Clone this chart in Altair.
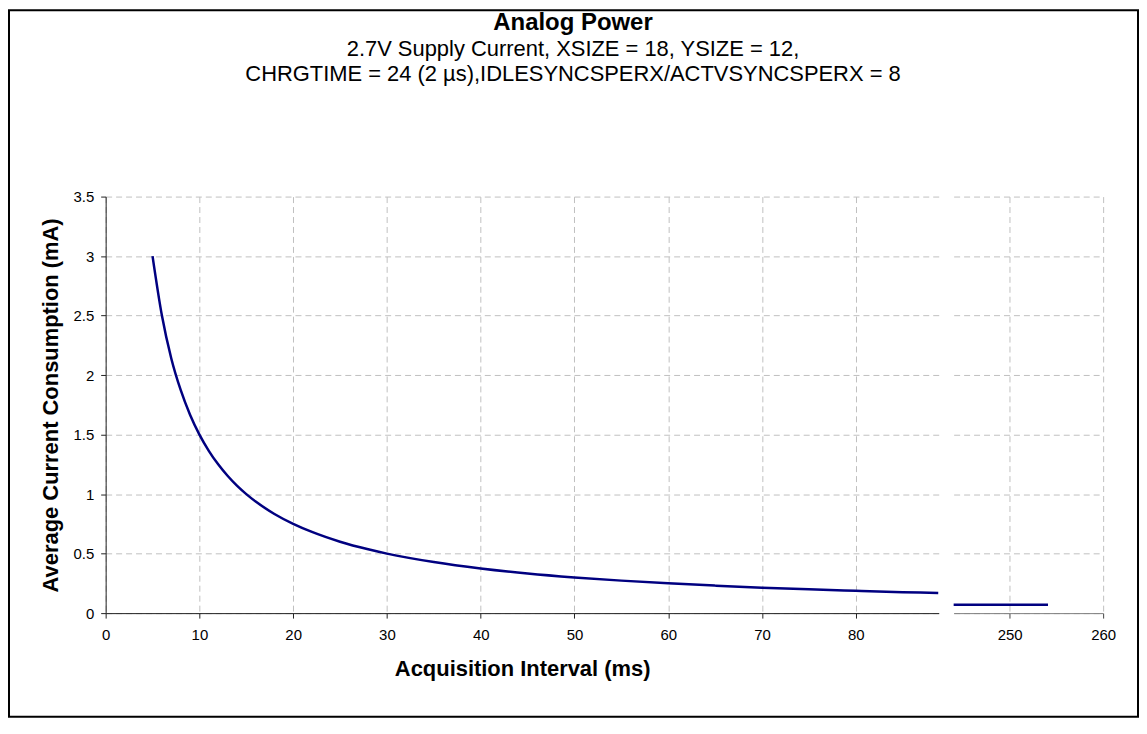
import altair as alt
import pandas as pd

FONT = "Liberation Sans"

TITLE = "Analog Power"
SUBTITLE = [
    "2.7V Supply Current, XSIZE = 18, YSIZE = 12,",
    "CHRGTIME = 24 (2 µs),IDLESYNCSPERX/ACTVSYNCSPERX = 8",
]
X_TITLE = "Acquisition Interval (ms)"
Y_TITLE = "Average Current Consumption (mA)"

# values
interval_left = [5, 6, 7, 8, 9, 10, 11, 12, 13, 14, 15, 16, 18, 20, 22, 25, 28, 30,
                 35, 40, 45, 50, 55, 60, 65, 70, 75, 80, 85, 88.8]
current_left = [3.0, 2.5, 2.14, 1.875, 1.667, 1.5, 1.364, 1.25, 1.154, 1.071, 1.0,
                0.9375, 0.833, 0.75, 0.682, 0.6, 0.536, 0.5, 0.429, 0.375, 0.333,
                0.3, 0.273, 0.25, 0.231, 0.214, 0.2, 0.1875, 0.176, 0.169]
interval_right = [244.0, 254.1]
current_right = [0.07, 0.07]

left_ticks = [0, 10, 20, 30, 40, 50, 60, 70, 80]
right_ticks = [250, 260]
y_ticks = [0, 0.5, 1, 1.5, 2, 2.5, 3, 3.5]
left_domain = [0, 88.85]
right_domain = [244, 260]
y_domain = [0, 3.5]

df_left = pd.DataFrame({"interval": interval_left, "current": current_left})
df_right = pd.DataFrame({"interval": interval_right, "current": current_right})
one = pd.DataFrame({"k": [0]})

LINE_COLOR = "#000080"
GRID = dict(grid=True, gridColor="#c0c0c0", gridDash=[6, 4], gridWidth=1)
yscale = alt.Scale(domain=y_domain, nice=False, zero=True)

left_line = alt.Chart(df_left).mark_line(
    color=LINE_COLOR, strokeWidth=2.5, interpolate="monotone"
).encode(
    x=alt.X("interval:Q", scale=alt.Scale(domain=left_domain, nice=False),
            axis=alt.Axis(values=left_ticks, title=X_TITLE, labelFlush=False,
                          labelPadding=9, titlePadding=17,
                          domainColor="#222222", tickColor="#222222", **GRID)),
    y=alt.Y("current:Q", scale=yscale,
            axis=alt.Axis(values=y_ticks, title=Y_TITLE, format="~g",
                          labelPadding=7, titlePadding=10,
                          domainColor="#222222", tickColor="#222222", **GRID)),
)

frame = alt.Chart(one).mark_rect(
    fill="white", fillOpacity=0, stroke="black", strokeWidth=2
).encode(
    x=alt.value(-97), x2=alt.value(1036), y=alt.value(-187), y2=alt.value(522)
)

title_mark = alt.Chart(one).mark_text(
    font=FONT, fontSize=24, fontWeight="bold", align="center",
    baseline="alphabetic", color="black"
).encode(x=alt.value(469), y=alt.value(-167), text=alt.value(TITLE))

sub_mark = alt.Chart(one).mark_text(
    font=FONT, fontSize=22, align="center", baseline="alphabetic",
    lineHeight=25, color="black"
).encode(x=alt.value(469), y=alt.value(-141), text=alt.value(SUBTITLE))

left = alt.layer(frame, left_line, title_mark, sub_mark).properties(width=836, height=418)

right = alt.Chart(df_right).mark_line(color=LINE_COLOR, strokeWidth=2.5).encode(
    x=alt.X("interval:Q", scale=alt.Scale(domain=right_domain, nice=False, zero=False),
            axis=alt.Axis(values=right_ticks, title=None, labelFlush=False,
                          labelPadding=9, domainColor="#808080",
                          tickColor="#444444", **GRID)),
    y=alt.Y("current:Q", scale=yscale,
            axis=alt.Axis(values=y_ticks, labels=False, ticks=False, domain=False,
                          title=None, **GRID)),
).properties(width=150, height=418)

chart = alt.hconcat(left, right, spacing=15, bounds="flush").properties(
    padding=0, background="white"
).configure_view(strokeWidth=0).configure_axis(
    labelFont=FONT, titleFont=FONT, labelFontSize=15, titleFontSize=22,
    labelColor="black", titleColor="black", titleFontWeight="bold", tickSize=5,
)

chart.save("out.html", embed_options={"renderer": "svg", "actions": False})
